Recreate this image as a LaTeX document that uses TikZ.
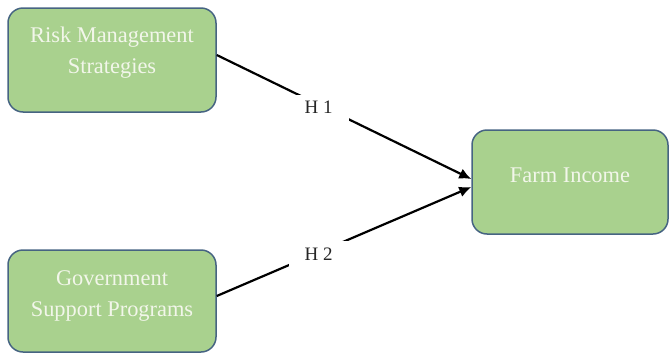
\documentclass[tikz,border=0pt]{standalone}
\usepackage{fontspec}
\setmainfont{Liberation Serif}
\usetikzlibrary{arrows.meta}
\definecolor{boxgreen}{RGB}{169,209,142}
\definecolor{boxedge}{RGB}{70,100,130}
\definecolor{boxtextcol}{RGB}{242,246,234}

\begin{document}
\begin{tikzpicture}[x=0.5pt, y=-0.5pt,
    box/.style={draw=boxedge, line width=0.75pt, fill=boxgreen, rounded corners=7.5pt,
        minimum width=104pt, minimum height=52pt},
    boxtext/.style={text=boxtextcol, align=center, font=\fontsize{11.2}{15.5}\selectfont},
    hlabel/.style={fill=white, minimum width=30pt, minimum height=13pt,
        font=\fontsize{9.5}{11}\selectfont, text=black!85}]
    \useasboundingbox (0,0) rectangle (670,354);

    % Define boxes
    \node[box] (risk) at (112,60) {};
    \node[box, minimum height=51pt] (gov) at (112,301) {};
    \node[box, minimum width=98pt] (farm) at (570,182) {};

    % Texts in the boxes
    \node[boxtext] (risktext) at ([yshift=3.5pt]risk.center) {Risk Management\\Strategies};
    \node[boxtext] (govtext) at ([yshift=2.5pt]gov.center) {Government\\Support Programs};
    \node[boxtext] (farmtext) at ([yshift=3.5pt]farm.center) {Farm Income};

    % Draw hypotheses with arrows
    \draw[line width=1.1pt, -{Latex[length=6pt,width=5.5pt]}] ([yshift=2.5pt]risk.east)
        -- node[hlabel, pos=0.4, yshift=-1.5pt] (h1) {H 1} ([yshift=1.5pt]farm.west);
    \draw[line width=1.1pt, -{Latex[length=6pt,width=5.5pt]}] ([yshift=2.5pt]gov.east)
        -- node[hlabel, pos=0.4, yshift=-1pt] (h2) {H 2} ([yshift=-2.5pt]farm.west);
\end{tikzpicture}
\end{document}
